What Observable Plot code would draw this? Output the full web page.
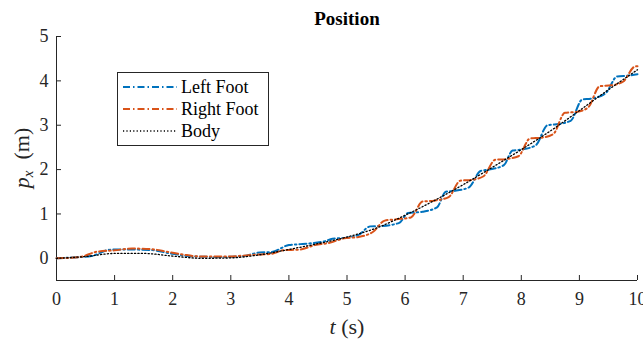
<!DOCTYPE html>
<html>
<head>
<meta charset="utf-8">
<script src="https://cdn.jsdelivr.net/npm/d3@7"></script>
<script src="https://cdn.jsdelivr.net/npm/@observablehq/plot@0.6"></script>
<style>
  html, body { margin: 0; padding: 0; background: #fff; }
  #wrap { position: relative; width: 643px; height: 340px; overflow: hidden; }
  #legend { position: absolute; left: 117px; top: 72px; width: 150px; height: 72px;
    border: 1px solid #262626; background: #fff; font-family: "Liberation Serif", serif; font-size: 18px; color: #000; }
  .row { position: absolute; left: 4px; height: 22px; display: flex; align-items: center; }
  .row svg { margin-right: 3px; }
</style>
</head>
<body>
<div id="wrap"></div>
<script>
// ---- data ----
const seriesNames = ["Left Foot", "Right Foot", "Body"];
const xTicks = [0, 1, 2, 3, 4, 5, 6, 7, 8, 9, 10];
const yTicks = [0, 1, 2, 3, 4, 5];

const tBody = [0, 0.5, 1.0, 1.5, 2.0, 2.5, 3.0, 3.5, 4.0, 4.5, 5.0, 5.5, 6.0, 6.5, 7.0, 7.5, 8.0, 8.5, 9.0, 9.5, 10.0];
const body  = [0, 0.04, 0.11, 0.11, 0.05, 0.0, 0.01, 0.08, 0.2, 0.33, 0.48, 0.68, 0.97, 1.3, 1.66, 2.05, 2.45, 2.87, 3.33, 3.8, 4.25];

const tLeft = [0, 0.3, 0.6, 0.9, 1.1, 1.6, 2.0, 2.4, 2.8, 3.2, 3.5, 3.7, 4.0, 4.2, 4.6, 4.75, 4.95, 5.2, 5.4, 5.6, 5.9, 6.05, 6.3, 6.55, 6.7, 6.85, 7.1, 7.3, 7.45, 7.7, 7.85, 8.0, 8.25, 8.45, 8.6, 8.85, 9.05, 9.2, 9.45, 9.65, 9.85, 10.0];
const left  = [0, 0.02, 0.05, 0.19, 0.2, 0.19, 0.1, 0.04, 0.03, 0.05, 0.13, 0.14, 0.3, 0.32, 0.38, 0.44, 0.46, 0.53, 0.72, 0.73, 0.8, 1.02, 1.05, 1.15, 1.5, 1.52, 1.6, 1.97, 2.0, 2.1, 2.43, 2.45, 2.55, 3.0, 3.02, 3.1, 3.58, 3.6, 3.72, 4.1, 4.12, 4.15];

const tRight = [0, 0.4, 0.7, 1.0, 1.3, 1.6, 1.9, 2.2, 2.5, 2.8, 3.1, 3.4, 3.7, 3.9, 4.2, 4.45, 4.7, 4.95, 5.2, 5.45, 5.65, 5.85, 6.1, 6.3, 6.5, 6.75, 6.95, 7.15, 7.35, 7.55, 7.75, 7.95, 8.15, 8.35, 8.55, 8.75, 8.95, 9.15, 9.35, 9.55, 9.75, 9.95, 10.0];
const right  = [0, 0.03, 0.15, 0.18, 0.22, 0.21, 0.15, 0.08, 0.04, 0.04, 0.05, 0.08, 0.1, 0.18, 0.2, 0.3, 0.35, 0.45, 0.48, 0.6, 0.85, 0.88, 0.92, 1.28, 1.3, 1.38, 1.75, 1.77, 1.85, 2.22, 2.24, 2.3, 2.7, 2.72, 2.8, 3.28, 3.3, 3.4, 3.88, 3.9, 3.98, 4.32, 4.33];

const colors = ["#0072BD", "#D95319", "#000000"];
const dashes = ["7,3,1.5,3", "7,3,1.5,3", "1.2,2.2"];
const widths = [2, 2, 1.3];

// ---- build ----
const rows = (ts, ys) => ts.map((t, i) => ({t, y: ys[i]}));
const leftRows = rows(tLeft, left), rightRows = rows(tRight, right), bodyRows = rows(tBody, body);

const font = '"Liberation Serif", "Times New Roman", serif';
const chart = Plot.plot({
  width: 643, height: 340,
  marginLeft: 56, marginRight: 6, marginTop: 36, marginBottom: 60,
  style: {fontFamily: font, fontSize: "18px", color: "#262626", background: "#fff", overflow: "hidden"},
  x: {domain: [0, 10]},
  y: {domain: [-0.5, 5]},
  marks: [
    Plot.axisX(xTicks, {tickSize: -5, tickPadding: 17, label: null, stroke: "#262626", fill: "#262626"}),
    Plot.axisY(yTicks, {tickSize: -5, tickPadding: 13, label: null, stroke: "#262626", fill: "#262626"}),
    Plot.ruleX([0], {stroke: "#262626"}),
    Plot.ruleY([-0.5], {stroke: "#262626"}),
    Plot.line(leftRows, {x: "t", y: "y", stroke: colors[0], strokeWidth: widths[0], strokeDasharray: dashes[0], curve: "monotone-x"}),
    Plot.line(rightRows, {x: "t", y: "y", stroke: colors[1], strokeWidth: widths[1], strokeDasharray: dashes[1], curve: "monotone-x"}),
    Plot.line(bodyRows, {x: "t", y: "y", stroke: colors[2], strokeWidth: widths[2], strokeDasharray: dashes[2], curve: "monotone-x"})
  ]
});
const wrap = document.getElementById("wrap");
wrap.appendChild(chart);

const svg = d3.select(chart);
// title
svg.append("text").attr("x", 347).attr("y", 25).attr("text-anchor", "middle")
  .attr("font-family", font).attr("font-size", 19).attr("font-weight", "bold").attr("fill", "#000").text("Position");
// x label
const xl = svg.append("text").attr("x", 347).attr("y", 334).attr("text-anchor", "middle")
  .attr("font-family", font).attr("font-size", 22).attr("fill", "#262626");
xl.append("tspan").attr("font-style", "italic").text("t");
xl.append("tspan").text(" (s)");
// y label
const yl = svg.append("text").attr("transform", "translate(29,158) rotate(-90)").attr("text-anchor", "middle")
  .attr("font-family", font).attr("font-size", 22).attr("fill", "#262626");
yl.append("tspan").attr("font-style", "italic").text("p");
yl.append("tspan").attr("font-style", "italic").attr("font-size", 15).attr("dy", 4).text("x");
yl.append("tspan").attr("dy", -4).text("\u2002(m)");

// legend
const lg = document.createElement("div");
lg.id = "legend";
seriesNames.forEach((name, i) => {
  const r = document.createElement("div");
  r.className = "row";
  r.style.top = (3 + i * 22) + "px";
  r.innerHTML = `<svg width="56" height="10"><line x1="1" y1="5" x2="55" y2="5" stroke="${colors[i]}" stroke-width="${widths[i]}" stroke-dasharray="${dashes[i]}"/></svg><span>${name}</span>`;
  lg.appendChild(r);
});
wrap.appendChild(lg);
</script>
</body>
</html>
